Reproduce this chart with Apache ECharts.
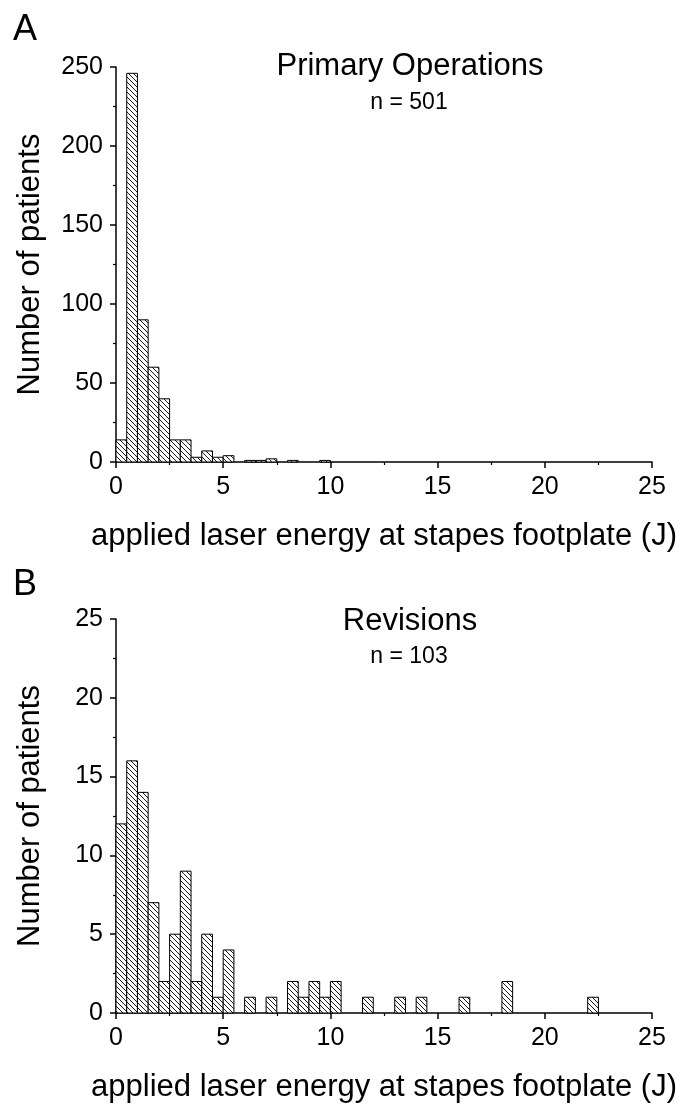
<!DOCTYPE html>
<html>
<head>
    <meta charset="utf-8">
    <title>Applied laser energy</title>
    <style>
        html, body { margin: 0; padding: 0; background: #fff; }
    </style>
</head>
<body>
    <div id="main" style="width: 684px;height:1104px;"></div>
    <script src="https://cdn.jsdelivr.net/npm/echarts@6/dist/echarts.min.js"></script>
    <script type="text/javascript">
        // histogram bins: 0.5 J wide, starting at 0 J
        var binWidth = 0.5;
        var primaryCounts = [14, 246, 90, 60, 40, 14, 14, 3, 7, 3, 4, 0, 1, 1, 2, 0, 1, 0, 0, 1];
        var revisionCounts = [12, 16, 14, 7, 2, 5, 9, 2, 5, 1, 4, 0, 1, 0, 1, 0, 2, 1, 2, 1, 2, 0, 0, 1, 0, 0, 1, 0, 1, 0,
                              0, 0, 1, 0, 0, 0, 2, 0, 0, 0, 0, 0, 0, 0, 1];
        var xTicks = [0, 5, 10, 15, 20, 25];
        var primaryYTicks = [0, 50, 100, 150, 200, 250];
        var revisionYTicks = [0, 5, 10, 15, 20, 25];

        var font = 'Liberation Sans, Arial, sans-serif';

        // hatch pattern "\\\\"
        var tile = document.createElement('canvas');
        tile.width = 5; tile.height = 5;
        var g = tile.getContext('2d');
        g.fillStyle = '#fff';
        g.fillRect(0, 0, 5, 5);
        g.strokeStyle = '#000';
        g.lineWidth = 0.9;
        g.beginPath();
        g.moveTo(-1, -1); g.lineTo(6, 6);
        g.moveTo(-1, 4); g.lineTo(1, 6);
        g.moveTo(4, -1); g.lineTo(6, 1);
        g.stroke();
        var hatch = { image: tile, repeat: 'repeat' };

        // turn counts into [left, right, count] bins, skipping empty ones
        function toBins(counts) {
            var out = [];
            counts.forEach(function (c, i) {
                if (c > 0) out.push([i * binWidth, (i + 1) * binWidth, c]);
            });
            return out;
        }

        function renderBar(params, api) {
            var p0 = api.coord([api.value(0), api.value(2)]);
            var p1 = api.coord([api.value(1), 0]);
            return {
                type: 'rect',
                shape: { x: p0[0], y: p0[1], width: p1[0] - p0[0], height: p1[1] - p0[1] },
                style: { fill: hatch, stroke: '#000', lineWidth: 1 }
            };
        }

        function xAxisOpt(idx) {
            return {
                gridIndex: idx,
                type: 'value',
                min: xTicks[0], max: xTicks[xTicks.length - 1], interval: xTicks[1] - xTicks[0],
                name: 'applied laser energy at stapes footplate (J)',
                nameLocation: 'middle',
                nameGap: 59,
                nameTextStyle: { fontFamily: font, fontSize: 31, color: '#000' },
                axisLine: { show: true, onZero: false, lineStyle: { color: '#000', width: 1.5 } },
                axisTick: { show: true, inside: false, length: 6, lineStyle: { color: '#000', width: 1.5 } },
                minorTick: { show: true, splitNumber: 2, length: 3, lineStyle: { color: '#000', width: 1.2 } },
                axisLabel: { fontFamily: font, fontSize: 25, color: '#000', margin: 13 },
                splitLine: { show: false }
            };
        }

        function yAxisOpt(idx, ticks) {
            return {
                gridIndex: idx,
                type: 'value',
                min: ticks[0], max: ticks[ticks.length - 1], interval: ticks[1] - ticks[0],
                name: 'Number of patients',
                nameLocation: 'middle',
                nameGap: 70,
                nameRotate: 90,
                nameTextStyle: { fontFamily: font, fontSize: 31, color: '#000' },
                axisLine: { show: true, lineStyle: { color: '#000', width: 1.5 } },
                axisTick: { show: true, inside: false, length: 6, lineStyle: { color: '#000', width: 1.5 } },
                minorTick: { show: true, splitNumber: 2, length: 3, lineStyle: { color: '#000', width: 1.2 } },
                axisLabel: { fontFamily: font, fontSize: 25, color: '#000', margin: 13 },
                splitLine: { show: false }
            };
        }

        var myChart = echarts.init(document.getElementById('main'));

        var option = {
            backgroundColor: '#fff',
            animation: false,
            title: [
                { text: 'A', left: 8, top: 7, textStyle: { fontFamily: font, fontSize: 36, fontWeight: 'normal', color: '#000' } },
                { text: 'Primary Operations', left: 405, top: 46, textAlign: 'center',
                  textStyle: { fontFamily: font, fontSize: 31, fontWeight: 'normal', color: '#000' } },
                { text: 'n = 501', left: 404, top: 86, textAlign: 'center',
                  textStyle: { fontFamily: font, fontSize: 23, fontWeight: 'normal', color: '#000' } },
                { text: 'B', left: 8, top: 562, textStyle: { fontFamily: font, fontSize: 36, fontWeight: 'normal', color: '#000' } },
                { text: 'Revisions', left: 405, top: 601, textAlign: 'center',
                  textStyle: { fontFamily: font, fontSize: 31, fontWeight: 'normal', color: '#000' } },
                { text: 'n = 103', left: 404, top: 640, textAlign: 'center',
                  textStyle: { fontFamily: font, fontSize: 23, fontWeight: 'normal', color: '#000' } }
            ],
            grid: [
                { left: 116, right: 32, top: 67, height: 395 },
                { left: 116, right: 32, top: 619, height: 395 }
            ],
            xAxis: [xAxisOpt(0), xAxisOpt(1)],
            yAxis: [yAxisOpt(0, primaryYTicks), yAxisOpt(1, revisionYTicks)],
            series: [
                { type: 'custom', xAxisIndex: 0, yAxisIndex: 0, renderItem: renderBar,
                  encode: { x: [0, 1], y: 2 }, data: toBins(primaryCounts) },
                { type: 'custom', xAxisIndex: 1, yAxisIndex: 1, renderItem: renderBar,
                  encode: { x: [0, 1], y: 2 }, data: toBins(revisionCounts) }
            ]
        };

        myChart.setOption(option);
    </script>
</body>
</html>
